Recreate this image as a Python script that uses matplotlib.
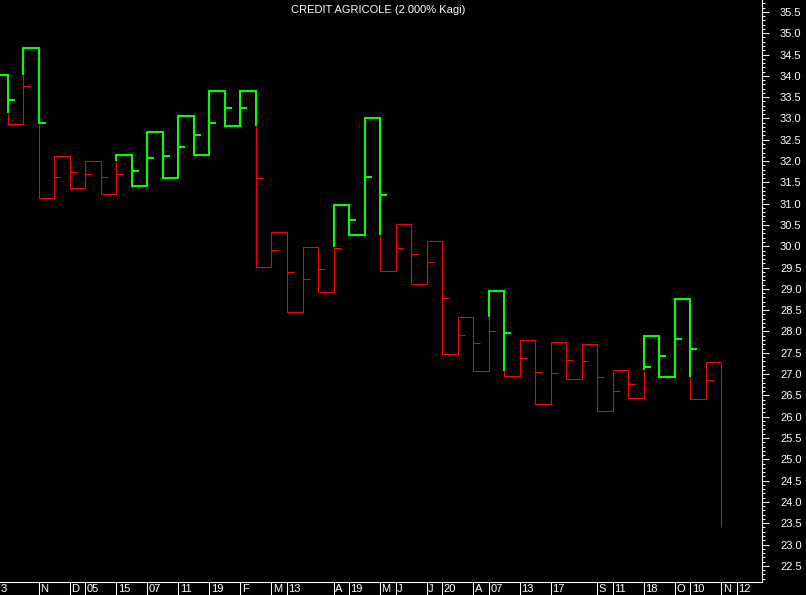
import numpy as np
import matplotlib.pyplot as plt
from matplotlib.ticker import MultipleLocator, FormatStrFormatter

plt.rcParams['font.family'] = ['Liberation Sans', 'DejaVu Sans']

# Kagi turning levels, one per column (column -1 ends at start_level)
start_level = 34.02
start_waist = 33.12
kagi_levels = [32.86, 34.66, 31.13, 32.11, 31.36, 31.99, 31.23, 32.14, 31.42, 32.69,
               31.60, 33.06, 32.15, 33.65, 32.83, 33.65, 29.51, 30.33, 28.45, 29.99,
               28.92, 30.98, 30.26, 33.00, 29.41, 30.52, 29.11, 30.12, 27.46, 28.33,
               27.07, 28.96, 26.95, 27.79, 26.29, 27.75, 26.88, 27.71, 26.13, 27.09,
               26.43, 27.90, 26.94, 28.77, 26.42, 27.28, 23.42]
# small horizontal marks on each column (none on the last one)
mark_levels = [33.43, 33.76, 32.89, 31.62, 31.74, 31.69, 31.62, 31.69, 31.77, 32.06,
               32.13, 32.32, 32.62, 32.90, 33.25, 33.25, 31.60, 29.91, 29.39, 29.22,
               29.46, 29.95, 30.62, 31.63, 31.21, 29.95, 29.81, 29.62, 28.78, 27.92,
               27.72, 28.00, 27.97, 27.37, 27.04, 27.02, 27.32, 27.31, 26.92, 26.60,
               26.76, 27.17, 27.42, 27.83, 27.59, 26.86]

date_pos = [2, 4, 5, 7, 9, 11, 13, 15, 17, 18, 21, 22, 24, 25, 27, 28, 30, 31,
            33, 35, 38, 39, 41, 43, 44, 46, 47]
date_labels = ['N', 'D', '05', '15', '07', '11', '19', 'F', 'M', '13', 'A', '19',
               'M', 'J', 'J', '20', 'A', '07', '13', '17', 'S', '11', '18', 'O', '10',
               'N', '12']
first_label = '3'   # tail of the label left of the visible range

colors = {'yang': '#00ff00', 'yin': '#ff0000'}
widths = {'yang': 1.5, 'yin': 0.75}

# build the kagi line as runs of one colour
runs = []
info = []
state = 'yang'
shoulder, waist = start_level, start_waist
prev = start_level
xs, ys = [-1], [start_level]
for k, lev in enumerate(kagi_levels):
    xs.append(k)
    ys.append(prev)
    if lev < prev:
        thr = waist
        flip = state == 'yang' and lev < thr
    else:
        thr = shoulder
        flip = state == 'yin' and lev > thr
    before = state
    if flip:
        xs.append(k)
        ys.append(thr)
        runs.append((state, xs, ys))
        state = 'yin' if state == 'yang' else 'yang'
        xs, ys = [k], [thr]
    xs.append(k)
    ys.append(lev)
    info.append((prev, thr, flip, before, state))
    if lev < prev:
        waist = lev
    else:
        shoulder = lev
    prev = lev
runs.append((state, xs, ys))

fig = plt.figure(figsize=(8.06, 5.95), dpi=100, facecolor='black')
ax = fig.add_axes([0, 13 / 595, 762 / 806, 582 / 595])
ax.set_facecolor('black')

for st, rx, ry in runs:
    ax.plot(rx, ry, color=colors[st], lw=widths[st],
            solid_joinstyle='miter', solid_capstyle='butt')

for k, m in enumerate(mark_levels):
    p, thr, flip, before, after = info[k]
    st = after
    if flip and min(p, thr) <= m <= max(p, thr):
        st = before
    ax.plot([k, k + 0.45], [m, m], color=colors[st], lw=widths[st],
            solid_capstyle='butt')

ax.set_xlim(-0.496, 48.61)
ax.set_ylim(22.12, 35.78)

for s in ['left', 'top']:
    ax.spines[s].set_visible(False)
for s in ['right', 'bottom']:
    ax.spines[s].set_color('white')
    ax.spines[s].set_linewidth(0.8)

ax.yaxis.tick_right()
ax.yaxis.set_major_locator(MultipleLocator(0.5))
ax.yaxis.set_minor_locator(MultipleLocator(0.1))
ax.yaxis.set_major_formatter(FormatStrFormatter('%.1f'))
ax.tick_params(axis='y', which='major', colors='white', length=5, width=0.75,
               pad=8, labelsize=8)
ax.tick_params(axis='y', which='minor', colors='white', length=2.5, width=0.75)

ax.set_xticks(date_pos)
ax.set_xticklabels([])
ax.tick_params(axis='x', colors='white', length=10, width=0.75, direction='out')
for p, lab in zip(date_pos, date_labels):
    ax.annotate(lab, xy=(p, 0), xycoords=('data', 'axes fraction'),
                xytext=(1.5, -2.5), textcoords='offset pixels',
                ha='left', va='top', color='white', fontsize=8)
ax.annotate(first_label, xy=(0, 0), xycoords='axes fraction',
            xytext=(0.5, -2.5), textcoords='offset pixels',
            ha='left', va='top', color='white', fontsize=8)

ax.text(0.4967, 0.977, 'CREDIT AGRICOLE (2.000% Kagi)', transform=ax.transAxes,
        ha='center', va='baseline', color='white', fontsize=8)

fig.savefig('out.png', dpi=100, facecolor='black')
